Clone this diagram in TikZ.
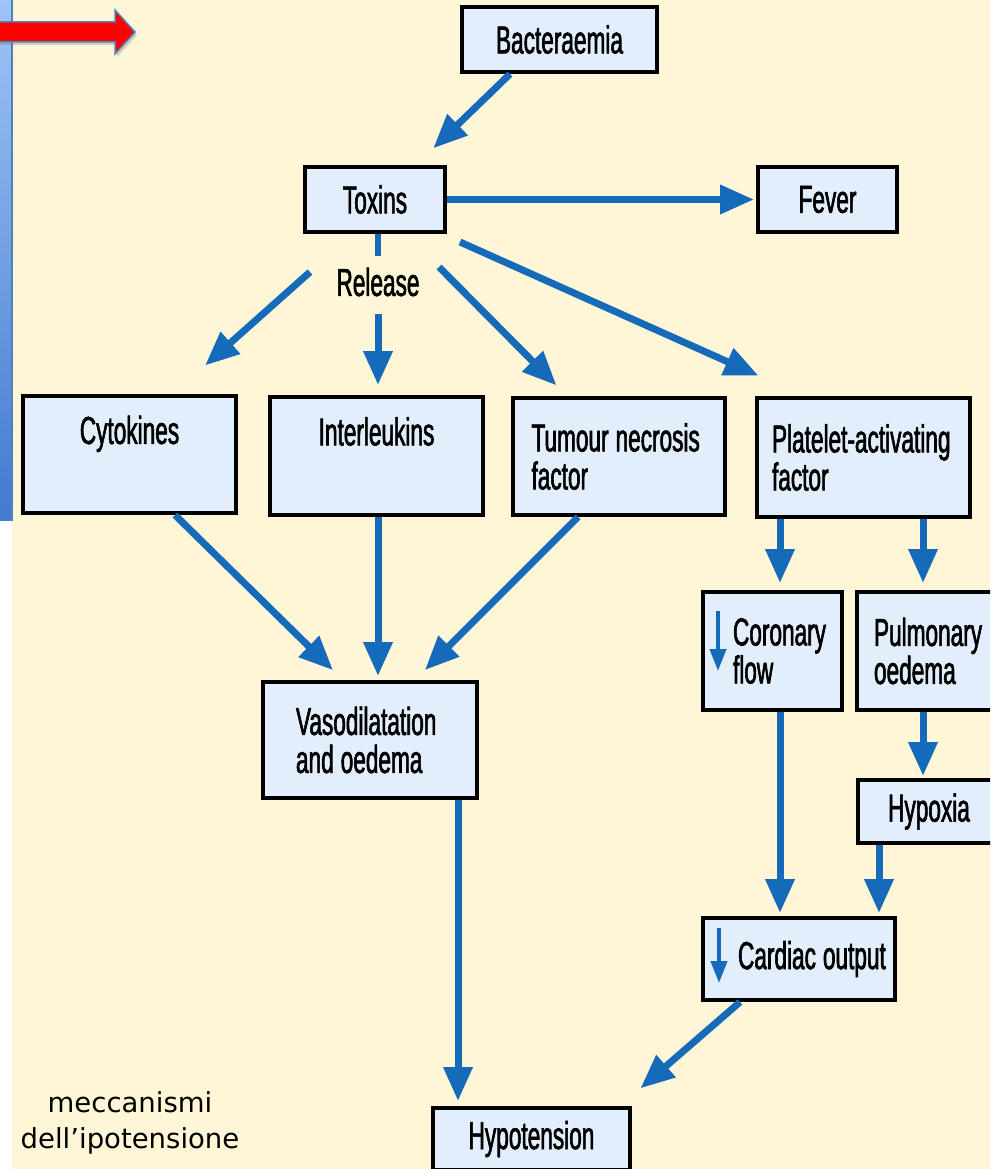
\documentclass[tikz,border=0pt]{standalone}
\usepackage{fontspec}
\setmainfont{Liberation Sans}[FakeStretch=0.58,FakeBold=1.5]
\newfontfamily\notefont{DejaVu Sans}
\usetikzlibrary{arrows.meta,shadows}
\definecolor{cream}{RGB}{255,246,216}
\definecolor{boxblue}{RGB}{226,238,251}
\definecolor{arrblue}{RGB}{22,106,186}
\definecolor{barlight}{RGB}{160,197,246}
\definecolor{bardark}{RGB}{66,122,208}
\definecolor{edgeblue}{RGB}{79,129,189}
\hyphenpenalty=10000
\exhyphenpenalty=10000
\newcommand{\gap}{\nobreak\hspace{7pt}}

\begin{document}
\begin{tikzpicture}[x=1pt,y=-1pt,
  box/.style={draw,line width=4pt,fill=boxblue,inner sep=4pt,font=\fontsize{39}{38}\selectfont},
  arr/.style={draw=arrblue,line width=7pt,-{Triangle[length=34pt,width=28pt]}},
  tick/.style={draw=arrblue,line width=4pt,-{Triangle[length=22pt,width=16pt]}}]
\useasboundingbox (0,0) rectangle (990,1169);
\clip (0,0) rectangle (990,1169);
\fill[cream] (12,0) rectangle (990,1169);
\shade[top color=barlight,bottom color=bardark,draw=edgeblue,line width=1.5pt] (-5,-5) rectangle (12,520);
\filldraw[fill=red,draw=edgeblue,line width=1.5pt,drop shadow={shadow xshift=2pt,shadow yshift=-3pt,opacity=.35}] (-5,22) -- (115,22) -- (115,10) -- (135,32) -- (115,54) -- (115,42) -- (-5,42) -- cycle;

\node[box,minimum width=195pt,minimum height=65pt] (bact) at (559.5,39.5) {Bacteraemia};
\node[box,minimum width=140pt,minimum height=65pt] (tox) at (375,199.5) {Toxins};
\node[box,minimum width=139pt,minimum height=65pt] (fever) at (827.5,199.5) {Fever};
\node[font=\fontsize{39}{38}\selectfont,inner sep=4pt] (rel) at (378,282) {Release};
\node[box,align=center,minimum width=213pt,minimum height=117pt] (cyto) at (129.5,454.5) {Cytokines\\\strut};
\node[box,align=center,minimum width=213pt,minimum height=118pt] (inter) at (376.5,456) {Interleukins\\\strut};
\node[box,align=left,text width=175pt,inner xsep=18.5pt,minimum width=212pt,minimum height=117pt] (tnf) at (619,456.5) {Tumour\gap necrosis\\factor};
\node[box,align=left,text width=183pt,inner xsep=15pt,minimum width=213pt,minimum height=119pt] (paf) at (863.5,457.5) {Platelet-activating\\factor};
\node[box,align=left,text width=79pt,inner xsep=30pt,minimum width=139pt,minimum height=118pt] (cor) at (772.5,651) {Coronary\\flow};
\node[box,align=left,text width=109pt,inner xsep=17pt,minimum width=143pt,minimum height=118pt] (pulm) at (928.5,651) {Pulmonary\\oedema};
\node[box,align=left,text width=148pt,inner xsep=33pt,minimum width=214pt,minimum height=116pt] (vaso) at (370,740) {Vasodilatation\\and\gap oedema};
\node[box,minimum width=142pt,minimum height=63pt] (hypox) at (929,811.5) {Hypoxia};
\node[box,align=left,text width=122pt,inner xsep=35pt,minimum width=192pt,minimum height=82pt] (card) at (799,959) {Cardiac\gap output};
\node[box,minimum width=197pt,minimum height=62pt] (hypo) at (531.5,1139) {Hypotension};
\node[font=\notefont\fontsize{27.5}{36}\selectfont,align=center] (note) at (130,1123) {meccanismi\\dell’ipotensione};

\draw[arr,shorten >=24pt] ([xshift=-49.5pt]bact.south) -- ([xshift=41pt]tox.north);
\draw[arr,shorten >=2pt] (tox) -- (fever);
\draw[draw=arrblue,line width=6pt,shorten >=7pt] (rel |- tox.south) -- (rel.north);
\draw[arr,shorten <=13pt,shorten >=10pt] (rel.south) -- (rel.south |- inter.north);
\draw[arr,shorten >=43pt] ([xshift=-68pt,yshift=10pt]rel.center) -- ([xshift=43.5pt]cyto.north);
\draw[arr,shorten >=15pt] ([xshift=61pt,yshift=15pt]rel.center) -- ([xshift=-52pt]tnf.north);
\draw[arr,shorten >=50pt] ([xshift=13pt,yshift=-8pt]tox.south east) -- ([xshift=-59.5pt]paf.north);
\draw[arr,shorten >=14pt] ([xshift=45.5pt]cyto.south) -- ([xshift=-27pt]vaso.north);
\draw[arr,shorten >=4pt] ([xshift=1.5pt]inter.south) -- ([xshift=1.5pt]inter.south |- vaso.north);
\draw[arr,shorten >=14pt] ([xshift=-41pt]tnf.south) -- ([xshift=45pt]vaso.north);
\draw[arr,shorten >=5pt] ([xshift=88pt]vaso.south) -- ([xshift=88pt]vaso.south |- hypo.north);
\draw[arr,shorten >=7pt] ([xshift=-83.5pt]paf.south) -- ([xshift=-83.5pt]paf.south |- cor.north);
\draw[arr,shorten >=7pt] ([xshift=59.5pt]paf.south) -- ([xshift=59.5pt]paf.south |- pulm.north);
\draw[arr,shorten >=2pt] ([xshift=-5.5pt]pulm.south) -- ([xshift=-5.5pt]pulm.south |- hypox.north);
\draw[arr,shorten >=3pt] ([xshift=7.5pt]cor.south) -- ([xshift=7.5pt]cor.south |- card.north);
\draw[arr,shorten >=3pt] ([xshift=-50pt]hypox.south) -- ([xshift=-50pt]hypox.south |- card.north);
\draw[arr,shorten >=27pt] ([xshift=-59pt]card.south) -- ([xshift=88.5pt]hypo.north);
\draw[tick] ([xshift=17pt,yshift=-21pt]cor.north west) -- ([xshift=17pt,yshift=-81pt]cor.north west);
\draw[tick] ([xshift=18pt,yshift=-12pt]card.north west) -- ([xshift=18pt,yshift=-67pt]card.north west);
\end{tikzpicture}
\end{document}
